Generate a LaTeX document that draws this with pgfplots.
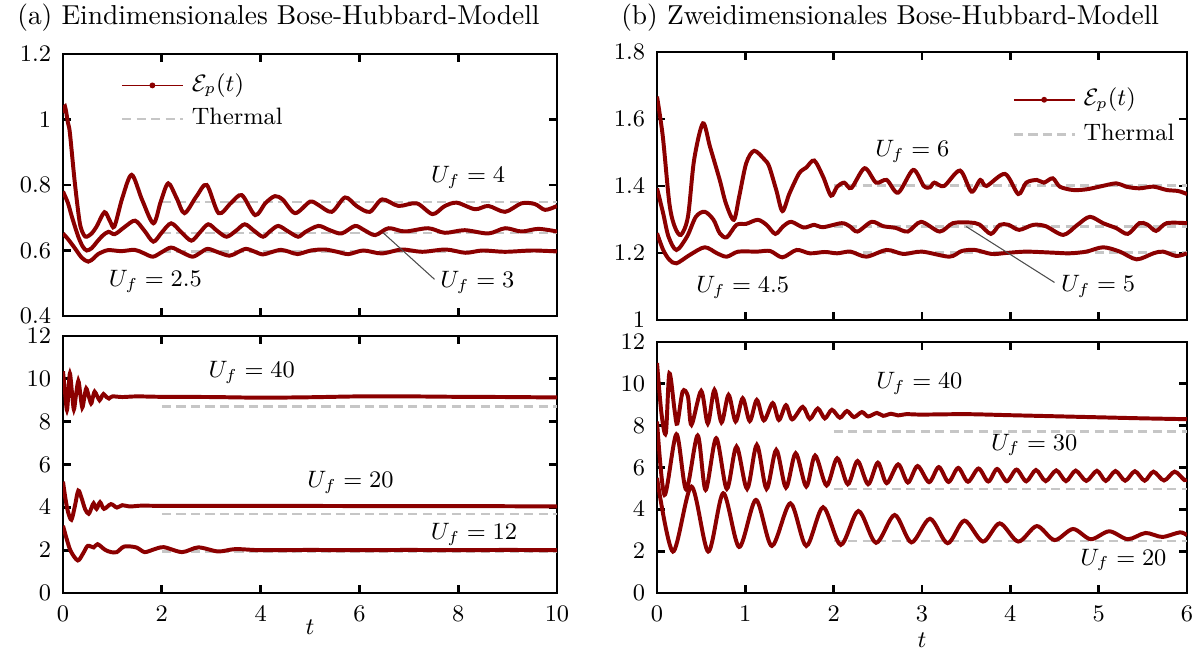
\documentclass[border=0pt]{standalone}
\usepackage{pgfplots}
\pgfplotsset{compat=1.18}

\definecolor{curve}{RGB}{139,0,0}
\definecolor{therm}{RGB}{198,198,198}

\pgfplotsset{
  panel/.style={
    scale only axis,
    axis line style={line width=1.1pt},
    tick style={line width=1.1pt, black},
    major tick length=3pt,
    tick align=inside,
    tick label style={font=\small},
    xticklabel style={yshift=-1.5pt},
    yticklabel style={xshift=-1pt},
    legend cell align=left,
    legend style={draw=none, fill=none, font=\small,
      nodes={inner xsep=3pt, inner ysep=0.5pt, text height=7pt, text depth=2.5pt}},
  },
  ep/.style={curve, line width=1.5pt, smooth, no markers},
  th/.style={therm, line width=0.9pt, dash pattern=on 3.5pt off 2pt},
}
\tikzset{lab/.style={font=\small}}

\newcommand{\eplegend}{%
  \addlegendimage{legend image code/.code={%
    \draw[curve, line width=0.6pt] (0cm,0cm) -- (0.81cm,0cm);
    \fill[curve] (0.405cm,0cm) circle (0.9pt);}}
  \addlegendentry{$\mathcal{E}_p(t)$}
  \addlegendimage{legend image code/.code={%
    \draw[therm, line width=0.9pt, dash pattern=on 3.5pt off 2pt] (0cm,0cm) -- (0.81cm,0cm);}}
  \addlegendentry{Thermal}}

\begin{document}
\begin{tikzpicture}
\useasboundingbox (0,0) rectangle (16cm,8.6667cm);

% ---------- (a) top ----------
\begin{axis}[panel,
  at={(0.84cm,7.9467cm)}, anchor=north west,
  width=6.5867cm, height=3.4933cm,
  xmin=0, xmax=10, ymin=0.4, ymax=1.2,
  xtick={0,2,4,6,8,10}, xticklabels={},
  ytick={0.4,0.6,0.8,1,1.2},
  legend style={at={(0.10,0.955)}, anchor=north west, row sep=2.2pt},
]
\eplegend
\addplot[th] coordinates {(2,0.749) (10,0.749)};
\addplot[th] coordinates {(2,0.654) (10,0.654)};
\addplot[th] coordinates {(2,0.597) (10,0.597)};
% U_f = 4
\addplot[ep] coordinates {
(0,1.02) (0.04,1.04) (0.1,0.99) (0.14,0.958) (0.24,0.806) (0.34,0.684) (0.42,0.648)
(0.48,0.642) (0.58,0.652) (0.68,0.673) (0.84,0.717) (0.95,0.69) (1.04,0.673) (1.2,0.76)
(1.39,0.831) (1.6,0.755) (1.83,0.683) (1.98,0.75) (2.13,0.805) (2.3,0.76) (2.46,0.714)
(2.7,0.765) (2.91,0.80) (3.15,0.714) (3.4,0.745) (3.62,0.769) (3.89,0.708) (4.1,0.745)
(4.29,0.766) (4.45,0.755) (4.70,0.714) (5.0,0.749) (5.17,0.739) (5.44,0.718) (5.71,0.762)
(5.95,0.735) (6.21,0.718) (6.46,0.756) (6.79,0.736) (7.16,0.744) (7.48,0.711) (7.72,0.735)
(7.97,0.746) (8.34,0.726) (8.61,0.736) (8.95,0.718) (9.28,0.744) (9.55,0.742) (9.76,0.724)
(10,0.736)};
% U_f = 3
\addplot[ep] coordinates {
(0,0.78) (0.1,0.745) (0.18,0.703) (0.31,0.642) (0.4,0.612) (0.48,0.60) (0.58,0.607)
(0.68,0.625) (0.8,0.645) (0.92,0.657) (1.05,0.65) (1.25,0.672) (1.46,0.691) (1.65,0.66)
(1.83,0.627) (2.0,0.655) (2.19,0.683) (2.4,0.655) (2.6,0.63) (2.77,0.655) (2.94,0.68)
(3.12,0.66) (3.31,0.642) (3.5,0.66) (3.68,0.68) (3.87,0.66) (4.05,0.642) (4.2,0.66)
(4.36,0.675) (4.56,0.658) (4.76,0.642) (4.9,0.656) (5.17,0.675) (5.4,0.662) (5.64,0.652)
(5.91,0.675) (6.1,0.662) (6.32,0.647) (6.59,0.668) (6.92,0.658) (7.39,0.668) (7.73,0.654)
(8.13,0.662) (8.61,0.652) (8.95,0.668) (9.28,0.658) (9.62,0.666) (10,0.658)};
% U_f = 2.5
\addplot[ep] coordinates {
(0,0.652) (0.1,0.635) (0.24,0.607) (0.38,0.578) (0.51,0.566) (0.62,0.576) (0.71,0.589)
(0.91,0.601) (1.18,0.598) (1.45,0.602) (1.63,0.592) (1.82,0.581) (2.0,0.595) (2.19,0.609)
(2.4,0.595) (2.62,0.581) (2.78,0.593) (2.93,0.605) (3.15,0.594) (3.37,0.584) (3.53,0.594)
(3.7,0.605) (3.87,0.597) (4.04,0.588) (4.22,0.595) (4.41,0.602) (4.58,0.596) (4.75,0.589)
(5.02,0.60) (5.3,0.603) (5.55,0.596) (5.78,0.589) (6.08,0.60) (6.45,0.591) (6.86,0.603)
(7.27,0.596) (7.75,0.603) (8.15,0.593) (8.49,0.60) (8.95,0.596) (9.5,0.6) (10,0.597)};
\node[lab] at (axis cs:8.2,0.822) {$U_f = 4$};
\node[lab] at (axis cs:1.87,0.505) {$U_f = 2.5$};
\node[lab, anchor=west] at (axis cs:7.45,0.503) {$U_f = 3$};
\draw[black!70, line width=0.4pt] (axis cs:6.48,0.654) -- (axis cs:7.52,0.512);
\end{axis}

% ---------- (a) bottom ----------
\begin{axis}[panel,
  at={(0.84cm,4.1867cm)}, anchor=north west,
  width=6.5867cm, height=3.4267cm,
  xmin=0, xmax=10, ymin=0, ymax=12,
  xtick={0,2,4,6,8,10}, ytick={0,2,4,6,8,10,12},
]
\addplot[th] coordinates {(2,8.70) (10,8.70)};
\addplot[th] coordinates {(2,3.70) (10,3.70)};
\addplot[th] coordinates {(2,1.94) (10,1.94)};
% U_f = 40
\addplot[ep] coordinates {
(0,10.35) (0.04,9.4) (0.08,8.54) (0.11,9.4) (0.14,10.25) (0.18,9.4) (0.22,8.57) (0.26,9.2)
(0.31,9.9) (0.35,9.3) (0.39,8.66) (0.43,9.1) (0.47,9.55) (0.52,9.2) (0.57,8.85) (0.6,9.1)
(0.64,9.4) (0.69,9.2) (0.74,9.0) (0.78,9.15) (0.82,9.29) (0.88,9.15) (0.93,9.08) (1.0,9.18)
(1.2,9.15) (1.5,9.18) (2,9.16) (3,9.15) (4,9.12) (5,9.14) (6,9.18) (7,9.18) (8,9.16)
(9,9.15) (10,9.13)};
% U_f = 20
\addplot[ep] coordinates {
(0,5.2) (0.05,4.4) (0.1,3.8) (0.17,3.42) (0.24,4.05) (0.31,4.78) (0.38,4.4) (0.45,3.9)
(0.52,3.7) (0.58,4.0) (0.62,4.19) (0.68,3.93) (0.75,4.24) (0.83,3.93) (0.97,4.15)
(1.09,3.99) (1.2,4.1) (1.35,4.04) (1.6,4.08) (2,4.07) (4,4.07) (6,4.06) (8,4.06) (10,4.04)};
% U_f = 12
\addplot[ep] coordinates {
(0,3.14) (0.08,2.48) (0.16,1.94) (0.3,1.52) (0.41,1.86) (0.5,2.2) (0.62,2.13) (0.7,2.28)
(0.85,2.02) (0.97,1.91) (1.09,1.91) (1.24,2.17) (1.48,2.13) (1.65,1.91) (1.82,2.02)
(2.04,2.14) (2.41,1.91) (2.74,2.13) (3.14,1.94) (3.49,2.05) (4,2.0) (5,2.01) (6,2.0)
(7,2.01) (8,2.0) (9,2.01) (10,2.0)};
\node[lab] at (axis cs:3.82,10.28) {$U_f = 40$};
\node[lab] at (axis cs:5.82,5.16) {$U_f = 20$};
\node[lab] at (axis cs:8.32,2.72) {$U_f = 12$};
\end{axis}

% ---------- (b) top ----------
\begin{axis}[panel,
  at={(8.76cm,7.9733cm)}, anchor=north west,
  width=7.0667cm, height=3.5733cm,
  xmin=0, xmax=6, ymin=1, ymax=1.8,
  xtick={0,1,2,3,4,5,6}, xticklabels={},
  ytick={1,1.2,1.4,1.6,1.8},
  legend style={at={(0.655,0.895)}, anchor=north west, row sep=2.7pt},
]
\eplegend
\addplot[th] coordinates {(2,1.401) (6,1.401)};
\addplot[th] coordinates {(2,1.279) (6,1.279)};
\addplot[th] coordinates {(2,1.201) (6,1.201)};
% U_f = 6
\addplot[ep] coordinates {
(0,1.667) (0.066,1.547) (0.14,1.348) (0.2,1.279) (0.27,1.254) (0.35,1.308) (0.42,1.478)
(0.52,1.587) (0.6,1.517) (0.71,1.418) (0.78,1.348) (0.87,1.299) (0.93,1.368) (1.01,1.468)
(1.10,1.505) (1.22,1.478) (1.27,1.458) (1.35,1.388) (1.42,1.325) (1.5,1.378) (1.61,1.438)
(1.69,1.455) (1.78,1.476) (1.88,1.428) (1.97,1.371) (2.04,1.398) (2.12,1.41) (2.2,1.394)
(2.35,1.453) (2.48,1.41) (2.6,1.418) (2.73,1.38) (2.9,1.448) (3.02,1.40) (3.09,1.396)
(3.14,1.41) (3.25,1.40) (3.43,1.446) (3.56,1.383) (3.66,1.418) (3.73,1.40) (3.94,1.436)
(4.09,1.376) (4.18,1.41) (4.30,1.418) (4.38,1.41) (4.48,1.423) (4.56,1.398) (4.71,1.388)
(4.86,1.39) (5.01,1.398) (5.2,1.408) (5.31,1.398) (5.46,1.393) (5.62,1.398) (5.77,1.388)
(5.9,1.385) (6.0,1.376)};
% U_f = 5
\addplot[ep] coordinates {
(0,1.393) (0.07,1.318) (0.13,1.249) (0.22,1.209) (0.34,1.249) (0.44,1.308) (0.54,1.323)
(0.64,1.299) (0.71,1.259) (0.79,1.247) (0.9,1.284) (1.01,1.287) (1.14,1.299) (1.24,1.284)
(1.34,1.257) (1.43,1.28) (1.52,1.293) (1.66,1.276) (1.78,1.284) (1.88,1.277) (2.09,1.289)
(2.18,1.28) (2.27,1.264) (2.43,1.293) (2.56,1.28) (2.7,1.275) (2.84,1.264) (2.99,1.293)
(3.2,1.264) (3.35,1.289) (3.54,1.291) (3.65,1.285) (3.78,1.257) (3.88,1.284) (3.98,1.284)
(4.1,1.269) (4.26,1.284) (4.4,1.28) (4.6,1.254) (4.76,1.284) (4.9,1.308) (5.05,1.289)
(5.2,1.274) (5.33,1.257) (5.46,1.289) (5.55,1.285) (5.65,1.266) (5.77,1.289) (6,1.289)};
% U_f = 4.5
\addplot[ep] coordinates {
(0,1.259) (0.07,1.209) (0.14,1.18) (0.22,1.169) (0.37,1.194) (0.54,1.217) (0.68,1.199)
(0.79,1.189) (0.92,1.204) (1.13,1.204) (1.28,1.206) (1.42,1.187) (1.58,1.209) (1.73,1.199)
(1.9,1.203) (2.04,1.199) (2.19,1.204) (2.37,1.189) (2.6,1.209) (2.79,1.197) (3.0,1.204)
(3.31,1.189) (3.45,1.206) (3.6,1.209) (3.79,1.197) (3.95,1.20) (4.18,1.204) (4.48,1.201)
(4.67,1.199) (4.86,1.204) (5.05,1.217) (5.24,1.204) (5.43,1.181) (5.62,1.199) (5.73,1.204)
(5.88,1.191) (6,1.199)};
\node[lab] at (axis cs:2.89,1.502) {$U_f = 6$};
\node[lab] at (axis cs:0.97,1.097) {$U_f = 4.5$};
\node[lab, anchor=west] at (axis cs:4.47,1.101) {$U_f = 5$};
\draw[black!70, line width=0.4pt] (axis cs:3.5,1.279) -- (axis cs:4.5,1.112);
\end{axis}

% ---------- (b) bottom ----------
\begin{axis}[panel,
  at={(8.76cm,4.1067cm)}, anchor=north west,
  width=7.0667cm, height=3.3467cm,
  xmin=0, xmax=6, ymin=0, ymax=12,
  xtick={0,1,2,3,4,5,6}, ytick={0,2,4,6,8,10,12},
]
\addplot[th] coordinates {(2,7.72) (6,7.72)};
\addplot[th] coordinates {(2,4.98) (6,4.98)};
\addplot[th] coordinates {(2,2.49) (6,2.49)};
% U_f = 40
\addplot[ep] coordinates {
(0,11.0) (0.05,8.6) (0.1,7.65) (0.14,10.5) (0.2,8.7) (0.23,8.1) (0.29,9.63) (0.35,9.4)
(0.39,8.04) (0.5,9.66) (0.575,8.1) (0.65,9.71) (0.73,8.15) (0.81,9.47) (0.89,8.2)
(0.97,9.31) (1.05,8.22) (1.13,9.23) (1.21,8.25) (1.31,9.08) (1.38,8.27) (1.46,8.98)
(1.53,8.3) (1.65,8.9) (1.73,8.32) (1.82,8.82) (1.9,8.35) (1.98,8.76) (2.07,8.38)
(2.15,8.7) (2.23,8.41) (2.32,8.65) (2.39,8.44) (2.49,8.61) (2.56,8.47) (2.65,8.57)
(2.73,8.49) (2.82,8.55) (3.0,8.53) (3.5,8.55) (4,8.5) (4.5,8.45) (5,8.4) (5.5,8.35) (6,8.31)};
% U_f = 30
\addplot[ep] coordinates {
(0,8.2) (0.085,4.69) (0.22,7.59) (0.33,4.95) (0.46,7.53) (0.55,4.93) (0.67,7.4)
(0.79,4.98) (0.9,7.0) (1.02,4.98) (1.13,7.08) (1.24,4.98) (1.35,6.84) (1.46,5.04)
(1.57,6.68) (1.69,5.09) (1.79,6.57) (1.92,5.14) (2.04,6.44) (2.16,5.2) (2.27,6.31)
(2.39,5.2) (2.5,6.23) (2.6,5.25) (2.73,6.15) (2.84,5.28) (2.95,6.07) (3.08,5.3)
(3.19,6.02) (3.30,5.31) (3.41,5.98) (3.52,5.32) (3.64,5.95) (3.75,5.33) (3.85,5.93)
(3.96,5.34) (4.07,5.9) (4.18,5.34) (4.29,5.88) (4.40,5.35) (4.52,5.86) (4.63,5.35)
(4.74,5.85) (4.86,5.36) (4.98,5.84) (5.08,5.36) (5.19,5.83) (5.30,5.37) (5.41,5.82)
(5.52,5.37) (5.62,5.8) (5.74,5.38) (5.86,5.8) (5.97,5.4) (6,5.45)};
% U_f = 20
\addplot[ep] coordinates {
(0,5.5) (0.18,1.98) (0.39,5.09) (0.58,1.98) (0.75,4.77) (0.93,2.2) (1.12,4.45) (1.3,2.25)
(1.51,4.29) (1.69,2.25) (1.88,4.1) (2.08,2.3) (2.28,3.92) (2.48,2.4) (2.69,3.73)
(2.88,2.42) (3.09,3.55) (3.29,2.38) (3.48,3.46) (3.69,2.46) (3.88,3.33) (4.09,2.46)
(4.3,3.2) (4.5,2.53) (4.71,3.06) (4.91,2.57) (5.12,2.95) (5.33,2.57) (5.53,2.87)
(5.72,2.68) (5.92,2.9) (6,2.76)};
\node[lab] at (axis cs:2.97,10.0) {$U_f = 40$};
\node[lab] at (axis cs:4.27,7.08) {$U_f = 30$};
\node[lab] at (axis cs:5.28,1.58) {$U_f = 20$};
\end{axis}

% titles and axis labels
\node[anchor=west, font=\fontsize{10.4}{12}\selectfont] at (0.107cm,8.427cm)
  {(a) Eindimensionales Bose-Hubbard-Modell};
\node[anchor=west, font=\fontsize{10.4}{12}\selectfont] at (8.16cm,8.427cm)
  {(b) Zweidimensionales Bose-Hubbard-Modell};
\node[font=\small] at (4.133cm,0.307cm) {$t$};
\node[font=\small] at (12.293cm,0.133cm) {$t$};
\end{tikzpicture}
\end{document}
